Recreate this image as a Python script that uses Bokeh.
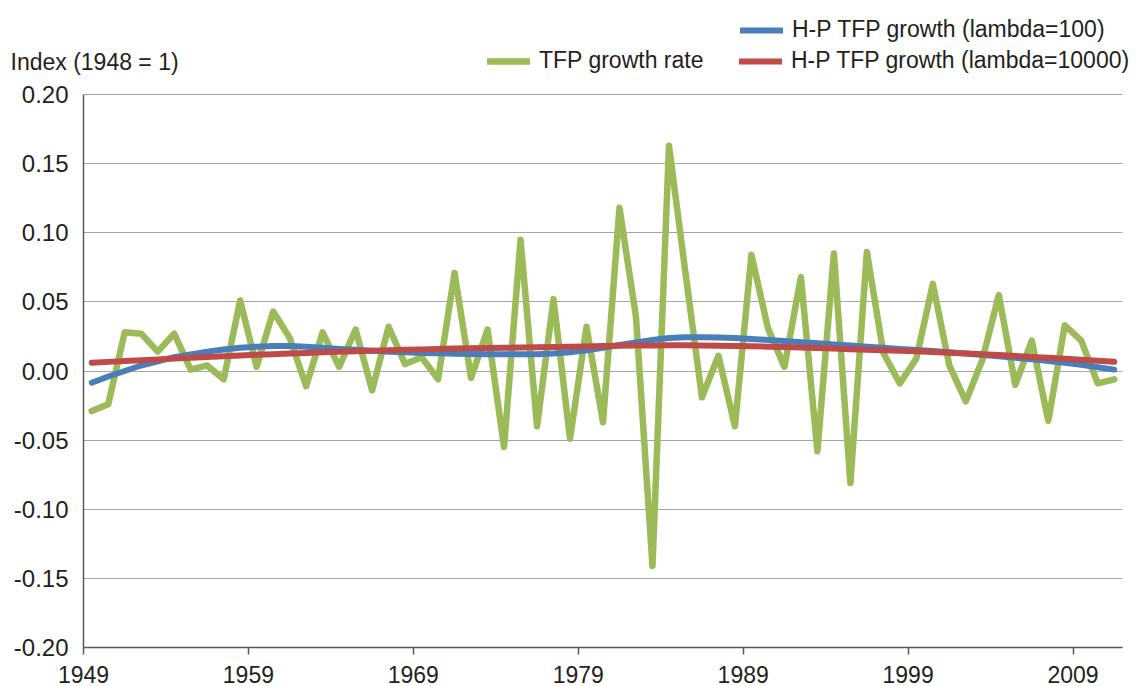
from bokeh.plotting import figure
from bokeh.models import (Legend, LegendItem, Label, FixedTicker, NumeralTickFormatter,
                          Range1d, ColumnDataSource)
from bokeh.embed import file_html
from bokeh.resources import INLINE

years = list(range(1949, 2012))

tfp_growth = [
    -0.029, -0.024, 0.028, 0.027, 0.014, 0.027, 0.001, 0.004, -0.006, 0.051,
    0.003, 0.043, 0.024, -0.011, 0.028, 0.003, 0.030, -0.014, 0.032, 0.005,
    0.010, -0.006, 0.071, -0.005, 0.030, -0.055, 0.095, -0.040, 0.052, -0.049,
    0.032, -0.037, 0.118, 0.039, -0.141, 0.163, 0.071, -0.019, 0.011, -0.040,
    0.084, 0.031, 0.003, 0.068, -0.058, 0.085, -0.081, 0.086, 0.013, -0.009,
    0.009, 0.063, 0.004, -0.022, 0.008, 0.055, -0.010, 0.022, -0.036, 0.033,
    0.022, -0.009, -0.006,
]

hp_lambda100 = [
    -0.0085, -0.0040, 0.0000, 0.0040, 0.0070, 0.0100, 0.0120, 0.0140, 0.0155, 0.0168,
    0.0176, 0.0180, 0.0180, 0.0175, 0.0168, 0.0160, 0.0153, 0.0146, 0.0140, 0.0135,
    0.0131, 0.0128, 0.0125, 0.0123, 0.0122, 0.0121, 0.0121, 0.0122, 0.0127, 0.0136,
    0.0150, 0.0168, 0.0188, 0.0207, 0.0225, 0.0238, 0.0244, 0.0245, 0.0243, 0.0238,
    0.0232, 0.0225, 0.0217, 0.0208, 0.0200, 0.0192, 0.0184, 0.0176, 0.0168, 0.0160,
    0.0152, 0.0144, 0.0136, 0.0126, 0.0116, 0.0106, 0.0095, 0.0084, 0.0072, 0.0059,
    0.0045, 0.0027, 0.0010,
]

hp_lambda10000 = [
    0.0060, 0.0066, 0.0072, 0.0078, 0.0084, 0.0090, 0.0096, 0.0102, 0.0107, 0.0112,
    0.0117, 0.0122, 0.0127, 0.0131, 0.0135, 0.0139, 0.0143, 0.0147, 0.0150, 0.0153,
    0.0156, 0.0159, 0.0162, 0.0164, 0.0166, 0.0168, 0.0170, 0.0172, 0.0174, 0.0176,
    0.0178, 0.0180, 0.0182, 0.0184, 0.0185, 0.0186, 0.0186, 0.0185, 0.0183, 0.0181,
    0.0179, 0.0176, 0.0173, 0.0170, 0.0166, 0.0162, 0.0158, 0.0154, 0.0150, 0.0146,
    0.0142, 0.0137, 0.0132, 0.0127, 0.0121, 0.0115, 0.0109, 0.0102, 0.0095, 0.0088,
    0.0081, 0.0074, 0.0067,
]

x_tick_years = [1949, 1959, 1969, 1979, 1989, 1999, 2009]
y_ticks = [-0.20, -0.15, -0.10, -0.05, 0.00, 0.05, 0.10, 0.15, 0.20]

label_tfp = "TFP growth rate"
label_hp100 = "H-P TFP growth (lambda=100)"
label_hp10000 = "H-P TFP growth (lambda=10000)"
y_title = "Index (1948 = 1)"

# ---- layout (pixels) ----
W, H = 1141, 686
PLOT_L, PLOT_R, PLOT_T, PLOT_B = 83, 1122, 94, 647   # where the axes box sits

x0, x1 = years[0], years[-1] + 1                      # category slots 1949..2011
y0, y1 = y_ticks[0], y_ticks[-1]
px_x = (PLOT_R - PLOT_L) / (x1 - x0)
px_y = (PLOT_B - PLOT_T) / (y1 - y0)
x_range = Range1d(x0 - PLOT_L / px_x, x1 + (W - PLOT_R) / px_x)
y_range = Range1d(y0 - (H - PLOT_B) / px_y, y1 + PLOT_T / px_y)

# each year's value sits in the middle of its category slot
src = ColumnDataSource(dict(
    x=[y + 0.5 for y in years],
    tfp=tfp_growth, hp100=hp_lambda100, hp10000=hp_lambda10000,
))

FONT = "Liberation Sans"
TXT = "#231f20"
AXIS = "#595959"
GRID = "#a6a6a6"

p = figure(width=W, height=H, output_backend="svg", toolbar_location=None,
           title_location=None, x_range=x_range, y_range=y_range,
           min_border_left=0, min_border_right=0, min_border_top=0, min_border_bottom=0)
p.outline_line_color = None
p.background_fill_color = "white"
p.border_fill_color = "white"

# horizontal grid lines, limited to the axes box
grid = p.ygrid[0]
grid.ticker = FixedTicker(ticks=y_ticks)
if "cross_bounds" in grid.properties():
    grid.grid_line_color = GRID
    grid.grid_line_width = 1.2
    grid.bounds = (y0, y1)
    grid.cross_bounds = (x0, x1)
else:
    grid.visible = False
    p.segment(x0=[x0] * len(y_ticks), x1=[x1] * len(y_ticks), y0=y_ticks, y1=y_ticks,
              line_color=GRID, line_width=1.2)
p.xgrid.visible = False

r_tfp = p.line("x", "tfp", source=src, line_color="#9BBB59", line_width=6.5,
               line_join="round", line_cap="round")
r_100 = p.line("x", "hp100", source=src, line_color="#4A7EBB", line_width=6,
               line_join="round", line_cap="round")
r_10000 = p.line("x", "hp10000", source=src, line_color="#BE4B48", line_width=6,
                 line_join="round", line_cap="round")

# y axis pinned at the first year
p.yaxis.fixed_location = x0
p.yaxis.bounds = (y0, y1)
p.yaxis.ticker = FixedTicker(ticks=y_ticks)
p.yaxis.formatter = NumeralTickFormatter(format="0.00")
p.yaxis.major_tick_line_color = None
p.yaxis.minor_tick_line_color = None
p.yaxis.major_tick_out = 0
p.yaxis.major_tick_in = 0
p.yaxis.axis_line_color = AXIS
p.yaxis.axis_line_width = 1.5
p.yaxis.major_label_text_font = FONT
p.yaxis.major_label_text_font_size = "24px"
p.yaxis.major_label_text_color = TXT
p.yaxis.major_label_standoff = 15

# x axis pinned at the bottom value
p.xaxis.fixed_location = y0
p.xaxis.bounds = (x0, x1)
p.xaxis.ticker = FixedTicker(ticks=x_tick_years)
p.xaxis.minor_tick_line_color = None
p.xaxis.major_tick_in = 0
p.xaxis.major_tick_out = 7
p.xaxis.major_tick_line_color = AXIS
p.xaxis.major_tick_line_width = 1.5
p.xaxis.axis_line_color = AXIS
p.xaxis.axis_line_width = 1.5
p.xaxis.major_label_text_font = FONT
p.xaxis.major_label_text_font_size = "23px"
p.xaxis.major_label_text_color = TXT
p.xaxis.major_label_standoff = 11

# y-axis title at the top-left
p.add_layout(Label(x=10, y=H - 61, x_units="screen", y_units="screen", text=y_title,
                   text_font=FONT, text_font_size="23px", text_color=TXT,
                   text_baseline="middle", text_align="left"))

common = dict(orientation="horizontal", padding=0, margin=0, border_line_color=None,
              background_fill_alpha=0, label_text_font=FONT, label_text_font_size="23px",
              label_text_color=TXT, label_height=26, glyph_height=26, glyph_width=43,
              label_standoff=9)

p.add_layout(Legend(items=[LegendItem(label=label_hp100, renderers=[r_100])],
                    location=(740, H - 43), **common))
p.add_layout(Legend(items=[LegendItem(label=label_tfp, renderers=[r_tfp]),
                           LegendItem(label=label_hp10000, renderers=[r_10000])],
                    label_width=169, spacing=31, location=(487, H - 74), **common))

open("out.html", "w").write(file_html(p, INLINE))
